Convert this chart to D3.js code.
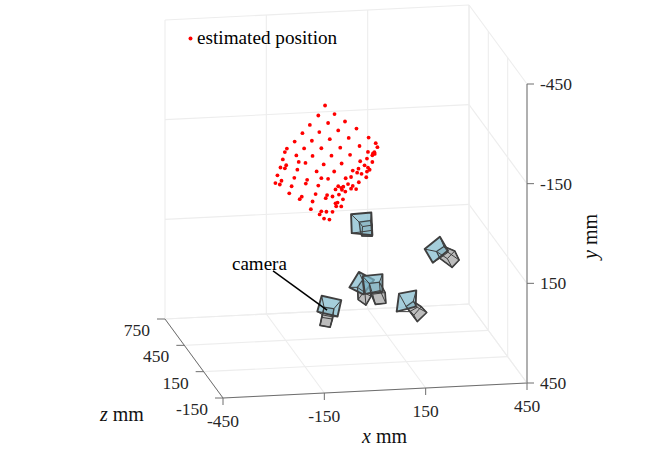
<!DOCTYPE html>
<html>
<head>
<meta charset="utf-8">
<script src="https://cdn.jsdelivr.net/npm/d3@7"></script>
<style>
  html, body { margin: 0; padding: 0; background: #fff; }
  svg { display: block; }
  text { font-family: "Liberation Serif", serif; }
</style>
</head>
<body>
<div id="chart"></div>
<script>
// Axis ticks (mm)
const xTicks = [-450, -150, 150, 450];
const yTicks = [-450, -150, 150, 450];
const zTicks = [-150, 150, 450, 750];

// Estimated positions, all taken on the plane z = 300
const markerZ = 300;
const dotX = [-62, -82, -34, -107, -53, -3, -129, -79, -23, 31, -152, -101, -48, 8, 67, -175, -181, -124, -73, -17, 40, 88, 93, -187, -147, -99, -43, 12, 65, 80, 84, 78, 85, 62, -140, -120, -66, -13, 42, 78, -177, -194, -181, -144, -87, -35, 20, 37, 55, 65, 70, 62, 33, 46, -203, -153, -73, -53, -1, 15, 60, -191, -209, -196, -115, -119, -161, -82, -23, -8, -14, -12, 6, 20, 15, 30, 38, -31, -168, -90, -131, -137, -56, -40, -21, -60, -2, -9, -99, -31, -25, -29, -14, -104, -73, -58, -40, -78, -65, -49];
const dotY = [-292, -263, -265, -236, -239, -241, -212, -213, -215, -218, -188, -188, -190, -191, -189, -168, -158, -166, -164, -163, -165, -171, -159, -136, -146, -142, -140, -140, -146, -141, -144, -135, -139, -126, -126, -122, -115, -115, -119, -115, -118, -112, -109, -103, -95, -92, -92, -97, -106, -99, -92, -87, -85, -81, -89, -79, -74, -71, -70, -73, -70, -72, -66, -61, -71, -60, -54, -52, -47, -45, -42, -36, -52, -46, -38, -36, -56, -38, -33, -27, -21, -14, -22, -17, -22, -13, -30, -7, -5, 4, 2, 13, 14, 18, 26, 28, 29, 35, 48, 52];

// Cameras: lens rim, body front and body back, as [x, y] mm on the same plane
const cameraOuter = [
  [[15, 39], [75, 37], [78, 105], [17, 96]],
  [[233, 155], [278, 120], [302, 163], [257, 197]],
  [[157, 285], [208, 278], [206, 327], [150, 339]],
  [[-72, 280], [-14, 296], [-25, 345], [-85, 327]],
  [[10, 259], [38, 214], [83, 240], [51, 282]],
  [[49, 227], [108, 224], [108, 277], [56, 281]]
];
const cameraInner = [
  [[39, 64], [73, 61], [75, 91], [43, 94]],
  [[268, 164], [290, 150], [302, 168], [278, 185]],
  [[178, 325], [199, 311], [211, 329], [189, 341]],
  [[-65, 315], [-36, 321], [-40, 345], [-69, 338]],
  [[34, 260], [49, 239], [71, 252], [56, 277]],
  [[69, 250], [99, 248], [101, 273], [73, 278]]
];
const cameraBack = [
  [[49, 78], [77, 75], [78, 108], [47, 106]],
  [[300, 187], [322, 165], [335, 193], [314, 214]],
  [[201, 352], [223, 328], [239, 346], [211, 372]],
  [[-72, 345], [-40, 352], [-47, 376], [-77, 369]],
  [[36, 297], [52, 276], [74, 289], [59, 315]],
  [[79, 283], [116, 280], [118, 312], [87, 314]]
];

// Leader line of the "camera" label
const leaderX = [-216, -56];
const leaderY = [198, 324];

const width = 662, height = 450;
const origin = { x: 223, y: 398 }; // corner x=-450, y=450, z=-150

// Orthographic view: each data axis adds a fixed screen offset
const xToPx = d3.scaleLinear().domain([-450, 450]).range([0, 304]);
const xToPy = d3.scaleLinear().domain([-450, 450]).range([0, -15]);
const zToPx = d3.scaleLinear().domain([-150, 750]).range([0, -58]);
const zToPy = d3.scaleLinear().domain([-150, 750]).range([0, -79]);
const yToPy = d3.scaleLinear().domain([-450, 450]).range([-299, 0]);

function project(x, y, z) {
  return [
    origin.x + xToPx(x) + zToPx(z),
    origin.y + xToPy(x) + yToPy(y) + zToPy(z)
  ];
}

const svg = d3.select("#chart").append("svg")
  .attr("width", width)
  .attr("height", height)
  .style("background", "#fff");

const line3 = (g, a, b, color, w) => {
  const p = project(...a), q = project(...b);
  g.append("line")
    .attr("x1", p[0]).attr("y1", p[1])
    .attr("x2", q[0]).attr("y2", q[1])
    .attr("stroke", color)
    .attr("stroke-width", w);
};

// Grid on the three walls
const grid = svg.append("g");
const gridColor = "#ededed";
xTicks.forEach(x => {
  line3(grid, [x, 450, -150], [x, 450, 750], gridColor, 1.1);
  line3(grid, [x, 450, 750], [x, -450, 750], gridColor, 1.1);
});
yTicks.forEach(y => {
  line3(grid, [-450, y, 750], [450, y, 750], gridColor, 1.1);
  line3(grid, [450, y, 750], [450, y, -150], gridColor, 1.1);
});
zTicks.forEach(z => {
  line3(grid, [-450, 450, z], [450, 450, z], gridColor, 1.1);
  line3(grid, [450, 450, z], [450, -450, z], gridColor, 1.1);
});

// Axis lines and ticks
const axes = svg.append("g");
line3(axes, [-450, 450, -150], [450, 450, -150], "#6e6e6e", 1);
line3(axes, [-450, 450, -150], [-450, 450, 750], "#6e6e6e", 1);
line3(axes, [450, -450, -150], [450, 450, -150], "#999", 1.5);

xTicks.forEach(x => {
  const p = project(x, 450, -150);
  axes.append("line")
    .attr("x1", p[0]).attr("y1", p[1])
    .attr("x2", p[0]).attr("y2", p[1] + 7)
    .attr("stroke", "#6e6e6e");
});
zTicks.forEach(z => {
  const p = project(-450, 450, z);
  axes.append("line")
    .attr("x1", p[0]).attr("y1", p[1])
    .attr("x2", p[0] - 8).attr("y2", p[1])
    .attr("stroke", "#6e6e6e");
});
yTicks.forEach(y => {
  const p = project(450, y, -150);
  axes.append("line")
    .attr("x1", p[0]).attr("y1", p[1])
    .attr("x2", p[0] + 7).attr("y2", p[1])
    .attr("stroke", "#6e6e6e");
});

// Tick labels
const labels = svg.append("g")
  .attr("fill", "#262626")
  .style("font-size", "17.5px");
xTicks.forEach(x => {
  const p = project(x, 450, -150);
  labels.append("text")
    .attr("x", p[0]).attr("y", p[1] + 29)
    .attr("text-anchor", "middle")
    .text(x);
});
zTicks.forEach(z => {
  const p = project(-450, 450, z);
  labels.append("text")
    .attr("x", p[0] - 15).attr("y", p[1] + 17)
    .attr("text-anchor", "end")
    .text(z);
});
yTicks.forEach(y => {
  const p = project(450, y, -150);
  labels.append("text")
    .attr("x", p[0] + 13).attr("y", p[1] + 6)
    .text(y);
});

// Axis titles
const titleX = svg.append("text").attr("x", 362).attr("y", 443).style("font-size", "20px").attr("fill", "#111");
titleX.append("tspan").style("font-style", "italic").text("x");
titleX.append("tspan").text(" mm");
const titleZ = svg.append("text").attr("x", 100).attr("y", 421).style("font-size", "20px").attr("fill", "#111");
titleZ.append("tspan").style("font-style", "italic").text("z");
titleZ.append("tspan").text(" mm");
const titleY = svg.append("text")
  .attr("transform", "translate(597,259) rotate(-90)")
  .style("font-size", "20px")
  .attr("fill", "#111");
titleY.append("tspan").style("font-style", "italic").text("y");
titleY.append("tspan").text(" mm");

// Cameras
const toScreen = pts => pts.map(d => project(d[0], d[1], markerZ));
const path = d3.line().curve(d3.curveLinearClosed);
const edge = "#3f3f3f";

const cameras = svg.append("g")
  .attr("stroke-linejoin", "round");

cameraOuter.forEach((outerPts, i) => {
  const outer = toScreen(outerPts);
  const inner = toScreen(cameraInner[i]);
  const back = toScreen(cameraBack[i]);
  const cam = cameras.append("g");

  // body sits behind the frustum lines but shows through
  cam.append("path")
    .attr("d", path(d3.polygonHull(inner.concat(back))))
    .attr("fill", "#bcbcbc")
    .attr("stroke", edge)
    .attr("stroke-width", 1.6);

  // frustum
  cam.append("path")
    .attr("d", path(outer))
    .attr("fill", "#7fb9cc")
    .attr("fill-opacity", 0.7)
    .attr("stroke", edge)
    .attr("stroke-width", 1.9);
  outer.forEach((p, k) => {
    cam.append("line")
      .attr("x1", p[0]).attr("y1", p[1])
      .attr("x2", inner[k][0]).attr("y2", inner[k][1])
      .attr("stroke", edge)
      .attr("stroke-width", 1);
  });

  // body edges
  cam.append("path")
    .attr("d", path(back))
    .attr("fill", "none")
    .attr("stroke", edge)
    .attr("stroke-width", 1);
  cam.append("path")
    .attr("d", path(inner))
    .attr("fill", "none")
    .attr("stroke", edge)
    .attr("stroke-width", 1);
  inner.forEach((p, k) => {
    cam.append("line")
      .attr("x1", p[0]).attr("y1", p[1])
      .attr("x2", back[k][0]).attr("y2", back[k][1])
      .attr("stroke", edge)
      .attr("stroke-width", 1);
  });
});

// Estimated positions
svg.append("g")
  .selectAll("circle")
  .data(dotX)
  .join("circle")
  .attr("cx", (d, i) => project(d, dotY[i], markerZ)[0])
  .attr("cy", (d, i) => project(d, dotY[i], markerZ)[1])
  .attr("r", 1.9)
  .attr("fill", "#f00");

// Camera label and leader
const a = project(leaderX[0], leaderY[0], markerZ);
const b = project(leaderX[1], leaderY[1], markerZ);
svg.append("line")
  .attr("x1", a[0]).attr("y1", a[1])
  .attr("x2", b[0]).attr("y2", b[1])
  .attr("stroke", "#000")
  .attr("stroke-width", 1.5);
svg.append("text")
  .attr("x", 232).attr("y", 270)
  .style("font-size", "19px")
  .attr("fill", "#000")
  .text("camera");

// Legend
svg.append("circle")
  .attr("cx", 190.5).attr("cy", 38.5)
  .attr("r", 2)
  .attr("fill", "#f00");
svg.append("text")
  .attr("x", 197).attr("y", 44)
  .style("font-size", "19.2px")
  .attr("fill", "#000")
  .text("estimated position");
</script>
</body>
</html>
